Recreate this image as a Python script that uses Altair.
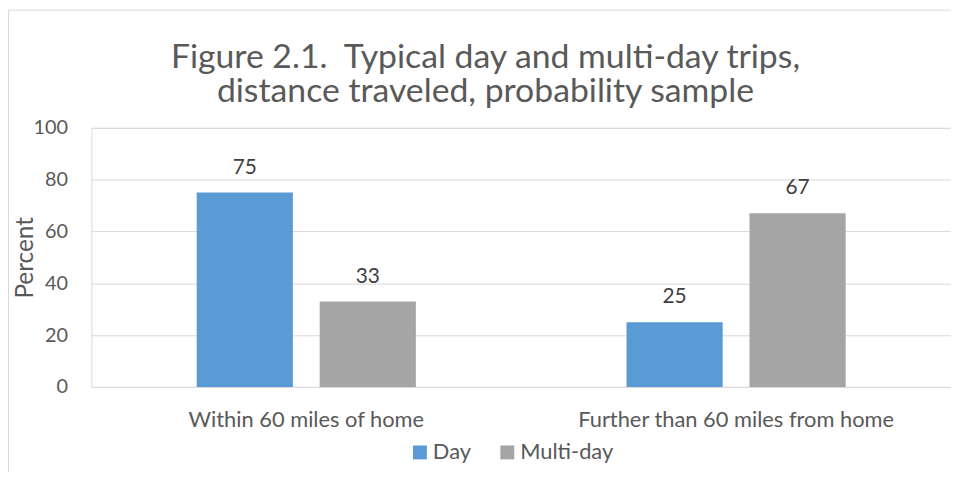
import altair as alt
import pandas as pd

categories = ["Within 60 miles of home", "Further than 60 miles from home"]
series = ["Day", "Multi-day"]
day_values = [75, 25]
multiday_values = [33, 67]
colors = ["#5B9BD5", "#A5A5A5"]
y_ticks = [0, 20, 40, 60, 80, 100]

rows = []
for i, c in enumerate(categories):
    rows.append({"Distance": c, "Trip": series[0], "Percent": day_values[i]})
    rows.append({"Distance": c, "Trip": series[1], "Percent": multiday_values[i]})
df = pd.DataFrame(rows)

FONT = "Lato"
TXT = "#595959"

base = alt.Chart(df).encode(
    x=alt.X("Distance:N", sort=categories,
            scale=alt.Scale(paddingInner=0.49, paddingOuter=0.245),
            axis=alt.Axis(title=None, labelAngle=0, labelFont=FONT, labelFontSize=22,
                          labelColor=TXT, domain=False, ticks=False, tickSize=0,
                          labelPadding=23, labelLimit=0, grid=False)),
    xOffset=alt.XOffset("Trip:N", sort=series, scale=alt.Scale(paddingInner=0.218)),
    y=alt.Y("Percent:Q", scale=alt.Scale(domain=[0, 100], nice=False),
            axis=alt.Axis(values=y_ticks, title="Percent", titleFont=FONT, titleFontSize=24.5,
                          titleColor=TXT, titleFontWeight="normal", titleAngle=-90,
                          titleX=-66, titleY=130.5, titleAlign="center", titleBaseline="middle",
                          labelFont=FONT, labelFontSize=20, labelColor=TXT,
                          domain=False, ticks=False, tickSize=0, labelPadding=24,
                          grid=True, gridColor="#D9D9D9", gridWidth=1)),
)

bars = base.mark_bar().encode(
    color=alt.Color("Trip:N", scale=alt.Scale(domain=series, range=colors),
                    legend=alt.Legend(title=None, orient="none", legendX=320, legendY=316,
                                      direction="horizontal", symbolType="square",
                                      symbolSize=196, symbolStrokeWidth=0,
                                      labelFont=FONT, labelFontSize=22, labelColor=TXT,
                                      labelOffset=2, columnPadding=25, padding=0))
)

labels = base.mark_text(dy=-19, baseline="alphabetic", font=FONT, fontSize=21,
                        color="#404040").encode(text="Percent:Q")

frame_df = pd.DataFrame({"k": [0]})
top_border = alt.Chart(frame_df).mark_rule(color="#D9D9D9", strokeWidth=1).encode(
    x=alt.value(-83.5), x2=alt.value(900), y=alt.value(-118.5))
left_border = alt.Chart(frame_df).mark_rule(color="#D9D9D9", strokeWidth=1).encode(
    x=alt.value(-83.5), y=alt.value(-118.5), y2=alt.value(400))

chart = alt.layer(top_border, left_border, bars, labels).properties(
    width=866, height=261,
    padding={"left": 84, "top": 119, "right": 0, "bottom": 84},
    autosize=alt.AutoSizeParams(type="none"),
    title=alt.TitleParams(
        text=["Figure 2.1.\u00a0 Typical day and multi-day trips,",
              "distance traveled, probability sample"],
        font=FONT, fontSize=34, fontWeight="normal", color=TXT, lineHeight=34,
        anchor="middle", frame="group", dx=-36, offset=-100),
).configure_view(stroke=None).configure(background="white")

chart.save("out.html", embed_options={"renderer": "svg", "actions": False})
